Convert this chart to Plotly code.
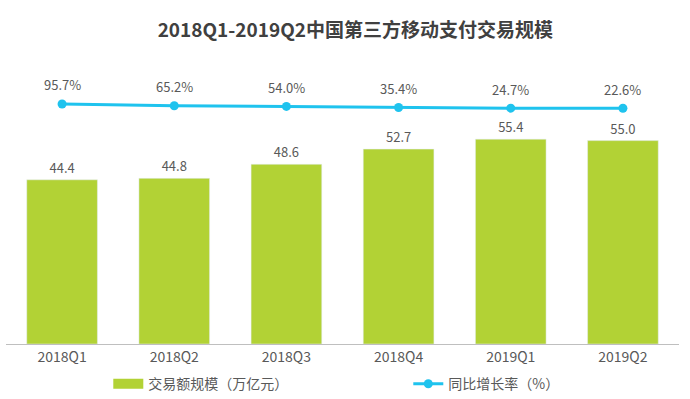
import plotly.graph_objects as go

categories = ["2018Q1", "2018Q2", "2018Q3", "2018Q4", "2019Q1", "2019Q2"]
volume = [44.4, 44.8, 48.6, 52.7, 55.4, 55.0]
growth = [95.7, 65.2, 54.0, 35.4, 24.7, 22.6]
volume_labels = ["44.4", "44.8", "48.6", "52.7", "55.4", "55.0"]
growth_labels = ["95.7%", "65.2%", "54.0%", "35.4%", "24.7%", "22.6%"]

FONT = "Noto Sans CJK SC"
GREY = "#595959"
GREEN = "#b2d235"
BLUE = "#1fc3ee"

fig = go.Figure()
fig.add_trace(go.Bar(
    x=categories, y=volume, name="交易额规模（万亿元）",
    marker=dict(color=GREEN),
    text=volume_labels, textposition="outside", cliponaxis=False,
    textfont=dict(size=13, color=GREY, family=FONT),
    width=0.63, showlegend=False,
))
# legend-only entry drawn as a wide rectangle like the reference swatch
fig.add_trace(go.Scatter(
    x=[None], y=[None], name="交易额规模（万亿元）", mode="lines",
    line=dict(color=GREEN, width=11), showlegend=True,
))
fig.add_trace(go.Scatter(
    x=categories, y=growth, name="同比增长率（%）", yaxis="y2",
    mode="lines+markers",
    line=dict(color=BLUE, width=3),
    marker=dict(color=BLUE, size=9),
    cliponaxis=False,
))

for cat, val, lab in zip(categories, growth, growth_labels):
    fig.add_annotation(x=cat, y=val, xref="x", yref="y2", text=lab,
                       showarrow=False, yshift=19,
                       font=dict(size=13, color=GREY, family=FONT))

fig.update_layout(
    width=690, height=399,
    margin=dict(l=6, r=11, t=60, b=55, autoexpand=False),
    paper_bgcolor="white", plot_bgcolor="white",
    font=dict(family=FONT, color=GREY),
    title=dict(text="<b>2018Q1-2019Q2中国第三方移动支付交易规模</b>",
               x=0.515, xanchor="center", y=0.925, yanchor="middle",
               font=dict(size=19, color="#404040", family=FONT)),
    xaxis=dict(showline=True, linecolor="#bfbfbf", linewidth=1,
               ticks="", tickfont=dict(size=14, color=GREY, family=FONT),
               showgrid=False),
    yaxis=dict(range=[0, 76.8], visible=False, showgrid=False),
    yaxis2=dict(range=[-3985, 843], overlaying="y", visible=False, showgrid=False),
    showlegend=True,
    legend=dict(orientation="h", x=0.152, xanchor="left", y=-0.085, yanchor="top",
                entrywidth=255, entrywidthmode="pixels",
                font=dict(size=14, color=GREY, family=FONT),
                traceorder="normal"),
    bargap=0.37,
)

fig.write_html("out.html", config={"displayModeBar": False},
               post_script="document.body.style.margin='0';")
